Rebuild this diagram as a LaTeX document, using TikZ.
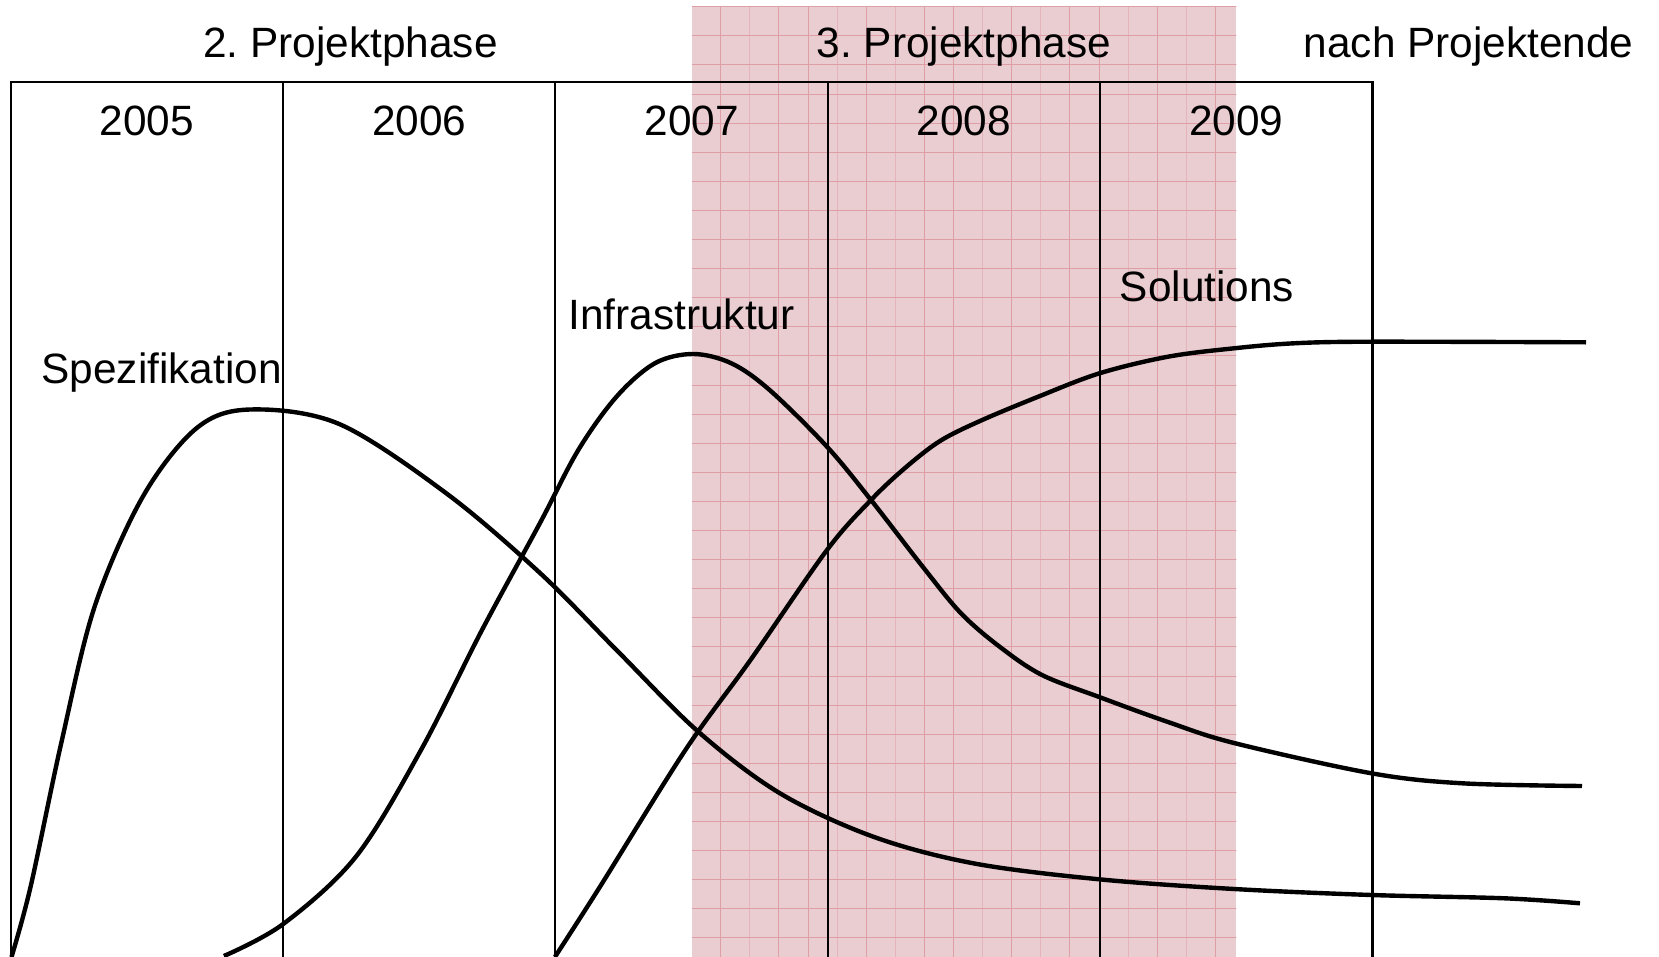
\documentclass[tikz,border=0pt]{standalone}
\usepackage{fontspec}
\setmainfont{Liberation Sans}
\definecolor{shadepink}{RGB}{234,205,208}
\definecolor{gridred}{RGB}{222,158,165}
\definecolor{gridfaint}{RGB}{228,180,186}
\begin{document}
\begin{tikzpicture}[x=0.01cm,y=-0.01cm,
  frame/.style={line width=0.6pt,black,line cap=rect},
  curve/.style={line width=1.25pt,black,line join=round},
  lbl/.style={inner sep=0pt,anchor=base,font=\fontsize{12.05}{14}\selectfont\frenchspacing},
  gridln/.style={line width=0.28pt,color=gridred},
  gridlnf/.style={line width=0.28pt,color=gridfaint}]
\useasboundingbox (0,0) rectangle (1659,957);
\fill[white] (0,0) rectangle (1659,957);
% shaded graph-paper band (3. Projektphase)
\fill[shadepink] (691.6,6.7) rectangle (1236.3,957);
\begin{scope}
  \clip (691.6,6.7) rectangle (1236.3,957);
  \foreach \k in {1,3,4,6,8,9,11,13,14,16,18} \draw[gridln] ({691.6+29.1*\k},6.7) -- ++(0,960);
  \foreach \k in {2,5,7,10,12,15,17} \draw[gridlnf] ({691.6+29.1*\k},6.7) -- ++(0,960);
  \foreach \k in {0,...,32} \draw[gridln] (691.6,{6.7+29.1*\k}) -- ++(560,0);
\end{scope}
% frame
\foreach \i in {0,...,5} {
  \coordinate (t\i) at ({10.7+272.35*\i},82);
  \coordinate (b\i) at ({10.7+272.35*\i},957);
}
\draw[frame] (t0) -- (t5);
\foreach \i in {0,...,5} \draw[frame] (t\i) -- (b\i);
% curves
\draw[curve] plot[smooth,tension=0.55] coordinates {
  (11.5,957) (30.6,886.7) (61.2,743.3) (94.6,606.7) (142.8,496.7)
  (196.4,428.3) (250,409.5) (339.2,424) (446.3,493.3) (540,573)
  (616.5,650) (698.3,731.7) (780,793.3) (873.3,836.7) (973.3,863.3)
  (1099.2,879.3) (1234.1,889) (1371.5,895) (1504.4,898.3) (1580,903.3)};
\draw[curve] plot[smooth,tension=0.55] coordinates {
  (223.9,956) (283.2,924) (355.9,856.7) (421,750) (482,630) (540,523)
  (578.3,450) (616.5,396.7) (654.8,363.3) (693.1,354) (731.4,363.3)
  (769.6,390) (827,446.7) (871,500) (922.7,566.7) (961,613.3)
  (1000,647) (1042,675) (1099.2,697) (1168,722) (1234,743)
  (1371.5,773.3) (1462.3,783.3) (1582,786)};
\draw[curve] plot[smooth,tension=0.55] coordinates {
  (554.9,957) (600,886.7) (685.4,750) (750.5,660) (827,550) (871,500)
  (905,468) (940,441) (980,421) (1037.5,397) (1099.5,373.3)
  (1168,356.7) (1234,348.3) (1294,343.3) (1371.5,341.7) (1586,342.3)};
% labels
\node[lbl] (p2) at (350.5,57.3) {2. Projektphase};
\node[lbl] (p3) at (964,57.3) {3. Projektphase};
\node[lbl] (pe) at (1468.6,57.3) {nach Projektende};
\node[lbl] (y5) at (146.9,135) {2005};
\node[lbl] (y6) at (419.3,135) {2006};
\node[lbl] (y7) at (691.6,135) {2007};
\node[lbl] (y8) at (964,135) {2008};
\node[lbl] (y9) at (1236.3,135) {2009};
\node[lbl] (spez) at (161.6,383.3) {Spezifikation};
\node[lbl] (infra) at (681.6,329.3) {Infrastruktur};
\node[lbl] (sol) at (1207,301.7) {Solutions};
\end{tikzpicture}
\end{document}
